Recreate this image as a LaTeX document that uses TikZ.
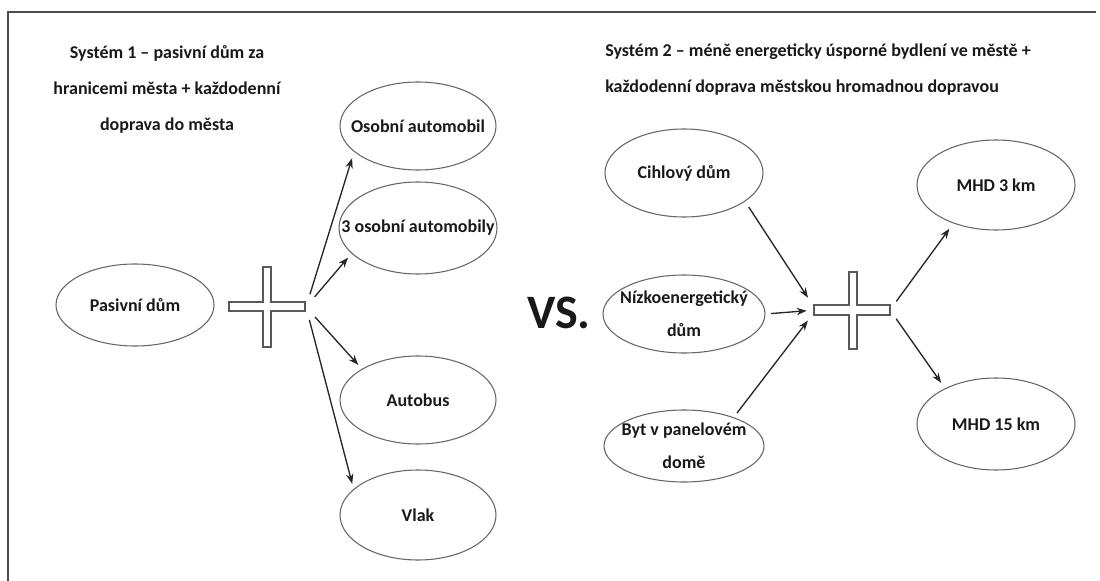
\documentclass[tikz,border=0pt]{standalone}
\usepackage{fontspec}
\setmainfont{Carlito}
\usetikzlibrary{shapes.geometric,arrows.meta}
\tikzset{
  ell/.style={ellipse, draw=black!60, line width=0.8pt, inner sep=0pt},
  lbl/.style={align=center, inner sep=0pt, text=black!90,
    font={\fontsize{13.5pt}{25pt}\selectfont\bfseries}},
  esz/.style 2 args={minimum width=#1*0.75pt, minimum height=#2*0.75pt},
  arr/.style={-{Stealth[length=7.5pt,width=5.5pt]}, line width=1pt, black!85},
  crossline/.style={draw=black!65, line width=0.9pt},
  ttl/.style={font={\fontsize{13.5pt}{27pt}\selectfont\bfseries}, text=black!90, inner sep=0pt}
}
\begin{document}
\begin{tikzpicture}[x=0.75pt,y=-0.75pt]
\useasboundingbox (0,0) rectangle (1100,581);
% frame (left and top edges only)
\draw[line width=1.2pt, black!70] (8,581) -- (8,12) -- (1096,12);
% titles
\node[ttl, align=center] (t1) at (167,89) {Systém 1 – pasivní dům za\\hranicemi města + každodenní\\doprava do města};
\node[ttl, align=left, anchor=west] (t2) at (605,70) {Systém 2 – méně energeticky úsporné bydlení ve městě +\\každodenní doprava městskou hromadnou dopravou};
% left system
\node[ell, esz={158}{82}, label={[lbl]center:Pasivní dům}] (pas) at (135,305) {};
\draw[crossline] (229,302) -- (263,302) -- (263,267) -- (271,267) -- (271,302) -- (305,302)
  -- (305,311) -- (271,311) -- (271,347) -- (263,347) -- (263,311) -- (229,311) -- cycle;
\coordinate (p1r) at (306,307);
\node[ell, esz={156}{88}, label={[lbl]center:Osobní automobil}] (osobni) at (418,126) {};
\node[ell, esz={158}{92}, label={[lbl]center:3 osobní automobily}] (tri) at (418,228) {};
\node[ell, esz={156}{88}, label={[lbl]center:Autobus}] (autobus) at (418,400) {};
\node[ell, esz={156}{90}, label={[lbl]center:Vlak}] (vlak) at (418,515) {};
\draw[arr, shorten <=10pt, shorten >=5pt] (p1r) -- (osobni.202);
\draw[arr, shorten <=10pt, shorten >=4pt] (p1r) -- (tri.201);
\draw[arr, shorten <=10pt, shorten >=4pt] (p1r) -- (autobus.151);
\draw[arr, shorten <=10pt, shorten >=4pt] (p1r) -- (vlak.158.5);
% VS
\node[font={\fontsize{36pt}{40pt}\selectfont\bfseries}, text=black!90, inner sep=0pt] (vs) at (559,313) {VS.};
% right system
\node[ell, esz={158}{88}, label={[lbl]center:Cihlový dům}] (cihl) at (684,173) {};
\node[ell, esz={162}{78}, label={[lbl]center:Nízkoenergetický\\dům}] (nizko) at (684,314) {};
\node[ell, esz={160}{72}, label={[lbl]center:Byt v panelovém\\domě}] (byt) at (684,446) {};
\draw[crossline] (814,305) -- (849,305) -- (849,272) -- (857,272) -- (857,305) -- (890,305)
  -- (890,315) -- (857,315) -- (857,349) -- (849,349) -- (849,315) -- (814,315) -- cycle;
\coordinate (p2l) at (816,310);
\coordinate (p2r) at (890,310);
\draw[arr, shorten <=5pt, shorten >=11pt] (cihl.335) -- (p2l);
\draw[arr, shorten <=4pt, shorten >=7pt] (nizko.east) -- (p2l);
\draw[arr, shorten <=4pt, shorten >=10pt] (byt.30) -- (p2l);
\node[ell, esz={158}{90}, label={[lbl]center:MHD 3 km}] (mhd3) at (996,185) {};
\node[ell, esz={158}{92}, label={[lbl]center:MHD 15 km}] (mhd15) at (996,424) {};
\draw[arr, shorten <=8pt, shorten >=5pt] (p2r) -- (mhd3.222.7);
\draw[arr, shorten <=8pt, shorten >=5pt] (p2r) -- (mhd15.145);
\end{tikzpicture}
\end{document}
